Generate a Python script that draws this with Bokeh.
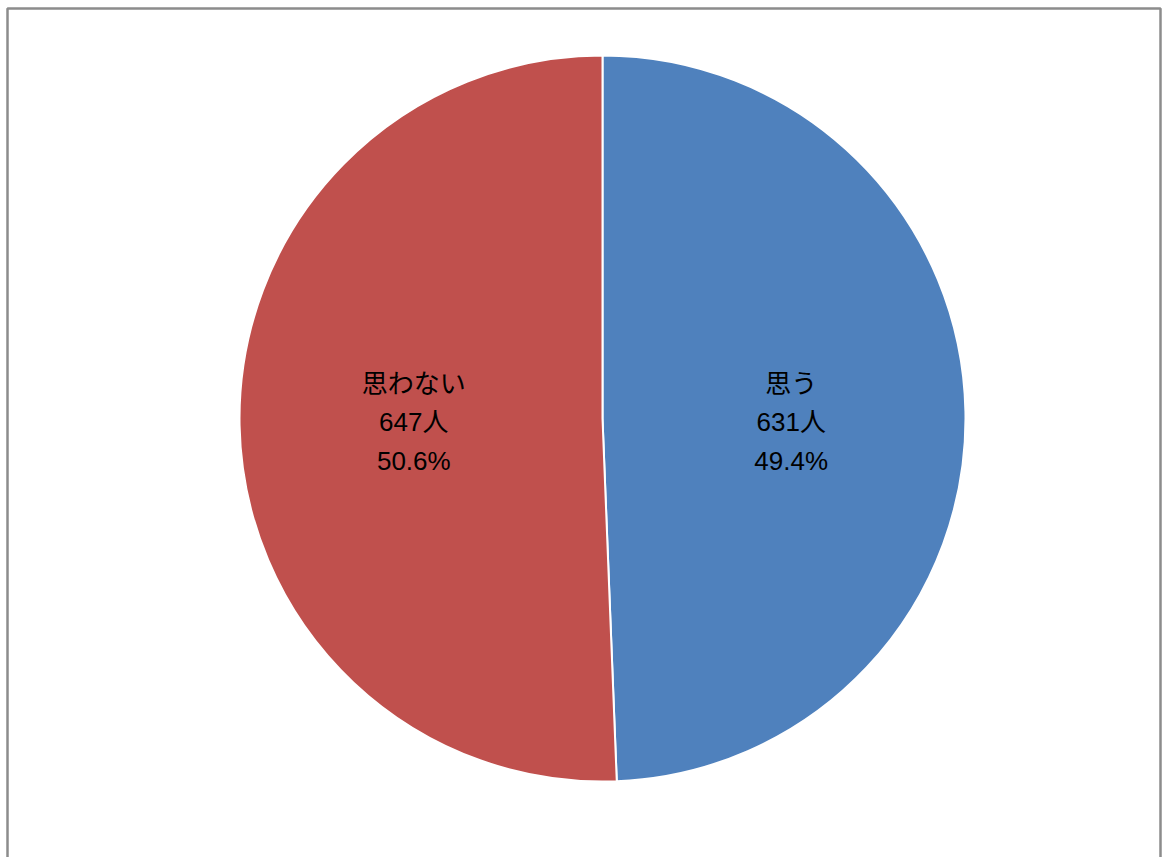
from math import pi, cos, sin
from bokeh.plotting import figure
from bokeh.models import Range1d, ColumnDataSource
from bokeh.core.properties import value
from bokeh.embed import file_html
from bokeh.resources import INLINE

categories = ["思う", "思わない"]
counts = [631, 647]
colors = ["#4F81BD", "#C0504D"]

W, H = 1162, 857
cx, cy, r = 602, H - 418, 363

total = sum(counts)
starts, ends, lx, t1, t2, t3 = [], [], [], [], [], []
a = pi / 2
for cat, c in zip(categories, counts):
    span = 2 * pi * c / total
    starts.append(a)
    ends.append(a - span)
    mid = a - span / 2
    lx.append(cx + 0.52 * r * cos(mid))
    t1.append(cat)
    t2.append(f"{c}人")
    t3.append(f"{100 * c / total:.1f}%")
    a -= span

src = ColumnDataSource(dict(start=starts, end=ends, color=colors))

p = figure(width=W, height=H, x_range=Range1d(0, W), y_range=Range1d(0, H),
           output_backend="svg", toolbar_location=None, min_border=0)
p.axis.visible = False
p.grid.visible = False
p.outline_line_color = None
p.background_fill_color = "white"

p.quad(left=[7], right=[1160], top=[H - 8], bottom=[-20], fill_color=None,
       line_color="#8c8c8c", line_width=2.5)

p.wedge(x=cx, y=cy, radius=r, start_angle="start", end_angle="end",
        direction="clock", fill_color="color", line_color="white", line_width=2,
        source=src)

for dy, texts in [(35, t1), (-3, t2), (-42, t3)]:
    p.text(x=lx, y=[cy + dy] * len(lx), text=texts, text_align="center",
           text_baseline="middle",
           text_font=value("Liberation Sans, Noto Sans CJK JP"),
           text_font_size="26px", text_color="black")

open("out.html", "w").write(file_html(p, INLINE))
